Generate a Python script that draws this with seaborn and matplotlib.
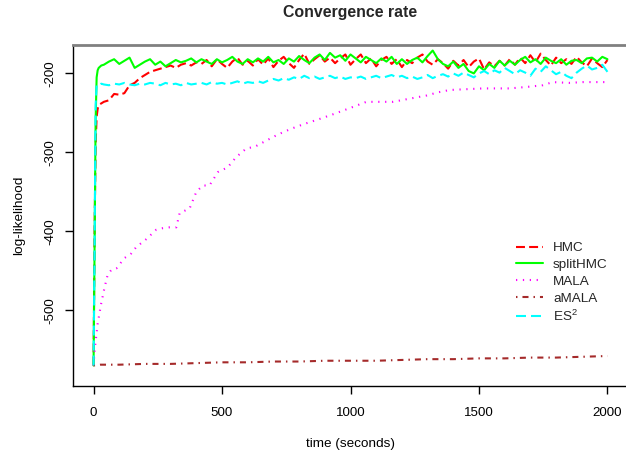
import pandas as pd
import numpy as np
import matplotlib.pyplot as plt
import seaborn as sns

# time grid for the three fast samplers (seconds)
time_fast = [0, 4, 8, 12, 16, 20, 30] + list(range(40, 2001, 20))

hmc = [-570, -400, -290, -255, -245, -240, -238,
       -236, -234, -226, -227, -225, -215, -212, -206, -202, -198,
       -196, -194, -192, -190, -193, -189, -187, -190, -186, -188,
       -183, -191, -182, -188, -193, -185, -180, -189, -184, -190,
       -182, -189, -181, -192, -184, -179, -187, -193, -183, -175,
       -188, -182, -177, -185, -180, -187, -181, -176, -189, -182,
       -176, -187, -181, -191, -183, -179, -188, -182, -192, -183,
       -187, -180, -176, -185, -189, -182, -187, -194, -184, -190,
       -183, -192, -185, -181, -195, -186, -191, -184, -190, -182,
       -189, -180, -187, -177, -186, -175, -183, -190, -180, -187,
       -182, -188, -179, -186, -191, -181, -187, -192, -183]

split_hmc = [-570, -420, -260, -205, -196, -193, -190,
             -189, -185, -182, -188, -184, -180, -193, -189, -185, -182,
             -189, -185, -191, -187, -183, -186, -184, -181, -186, -182,
             -185, -188, -182, -186, -183, -179, -185, -188, -182, -186,
             -181, -185, -179, -186, -183, -188, -181, -185, -178, -183,
             -187, -180, -176, -183, -174, -180, -177, -184, -176, -181,
             -186, -179, -183, -187, -181, -185, -179, -188, -182, -188,
             -183, -180, -186, -178, -171, -182, -188, -191, -185, -193,
             -188, -197, -200, -191, -196, -188, -193, -184, -190, -184,
             -189, -183, -179, -186, -182, -188, -180, -184, -187, -182,
             -189, -184, -183, -187, -181, -180, -185, -179, -182]

es2 = [-570, -420, -240, -215, -214, -215, -213,
       -214, -215, -213, -214, -212, -214, -215, -213, -214, -212,
       -213, -215, -212, -214, -213, -215, -212, -214, -213, -212,
       -214, -211, -213, -212, -214, -212, -210, -213, -211, -212,
       -210, -212, -209, -207, -209, -206, -208, -205, -207, -203,
       -206, -204, -207, -205, -203, -206, -204, -207, -205, -206,
       -204, -207, -205, -203, -206, -204, -202, -205, -203, -206,
       -204, -207, -205, -202, -206, -203, -201, -204, -200, -203,
       -199, -202, -205, -200, -197, -201, -196, -199, -193, -197,
       -201, -196, -199, -203, -194, -198, -191, -196, -201, -198,
       -203, -206, -199, -194, -190, -195, -193, -189, -198]

mala_time = [0, 4, 16, 30, 43, 55, 69, 89, 120, 147,
             166, 205, 244, 270, 295, 322, 335, 374, 400, 425,
             451, 484, 522, 555, 595, 627, 673, 720, 770, 820,
             868, 930, 997, 1062, 1110, 1165, 1230, 1296, 1340, 1386,
             1450, 1516, 1570, 1620, 1690, 1748, 1787, 1850, 1904, 1950,
             2000]
mala = [-570, -551, -517, -491, -471, -455, -449, -447, -434, -428,
        -420, -410, -398, -396, -395, -395, -377, -371, -350, -342,
        -342, -325, -319, -306, -295, -293, -285, -277, -270, -264,
        -259, -252, -244, -236, -236, -236, -232, -228, -224, -221,
        -220, -219, -219, -219, -217, -215, -211, -212, -211, -211,
        -211]

amala_time = [0, 25, 100, 200, 300, 400, 500, 600, 700, 800, 900,
              1000, 1100, 1200, 1300, 1400, 1500, 1600, 1700, 1800, 1900, 2000]
amala = [-570, -569, -569, -568, -568, -567, -566, -566, -565, -565, -564,
         -564, -564, -563, -562, -562, -561, -561, -560, -560, -559, -558]

sns.set_style('white')
plt.rcParams['font.family'] = ['Liberation Sans', 'DejaVu Sans']
plt.rcParams['mathtext.default'] = 'regular'
plt.rcParams['axes.unicode_minus'] = False

fig = plt.figure(figsize=(6.26, 4.57), dpi=100)
ax = fig.add_axes([73 / 626, 71 / 457, 555 / 626, 341 / 457])

series = [
    ('HMC', time_fast, hmc, '#FF0000', (0, (4.3, 2.0)), 1.5),
    ('splitHMC', time_fast, split_hmc, '#00FF00', '-', 1.5),
    ('MALA', mala_time, mala, '#FF00FF', (0, (0.6, 2.7)), 1.5),
    ('aMALA', amala_time, amala, '#A52A2A', (0, (0.7, 2.4, 2.9, 2.4)), 1.5),
    ('ES$^2$', time_fast, es2, '#00FFFF', (0, (4.8, 2.4)), 1.5),
]
for name, t, v, col, ls, lw in series:
    df = pd.DataFrame({'time': t, 'loglik': v})
    sns.lineplot(data=df, x='time', y='loglik', ax=ax, color=col,
                 linestyle=ls, linewidth=lw, label=name, estimator=None)

ax.set_xlim(-80, 2080)
ax.set_ylim(-596, -164)
ax.set_xticks([0, 500, 1000, 1500, 2000])
ax.set_yticks([-500, -400, -300, -200])
ax.tick_params(axis='both', which='major', direction='out', length=6,
               width=1, labelsize=9.6, color='black', labelcolor='black',
               bottom=True, left=True)
ax.tick_params(axis='x', pad=9)
ax.tick_params(axis='y', pad=6)
for lab in ax.get_yticklabels():
    lab.set_rotation(90)
    lab.set_va('center')

for side in ['left', 'bottom']:
    ax.spines[side].set_color('black')
    ax.spines[side].set_linewidth(1)
ax.spines['top'].set_color('#808080')
ax.spines['top'].set_linewidth(2)
ax.spines['right'].set_color('black')

ax.set_xlabel('time (seconds)', fontsize=9.7, labelpad=14, color='black')
ax.set_ylabel('log-likelihood', fontsize=9.7, labelpad=14, color='black')
fig.text(350 / 626, 1 - 12 / 457, 'Convergence rate', ha='center', va='center',
         fontsize=11.4, fontweight='bold')

ax.legend(loc='upper left', bbox_to_anchor=(516 / 626, 1 - 242 / 457),
          bbox_transform=fig.transFigure, frameon=False, fontsize=9.7,
          handlelength=2.0, handletextpad=0.75, labelspacing=0.32,
          borderpad=0, borderaxespad=0)

plt.savefig('out.png', dpi=100)
